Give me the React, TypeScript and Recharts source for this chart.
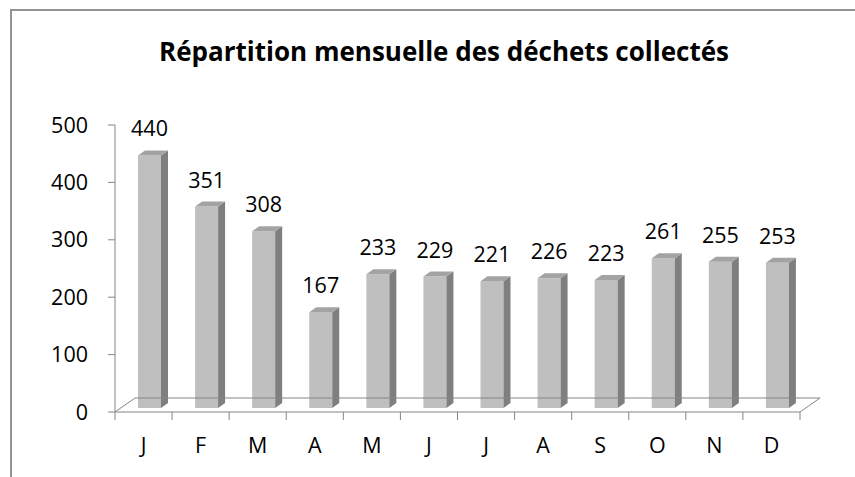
import { Bar, BarChart, LabelList, XAxis, YAxis } from "recharts"

const months = ["J", "F", "M", "A", "M", "J", "J", "A", "S", "O", "N", "D"]
const totals = [440, 351, 308, 167, 233, 229, 221, 226, 223, 261, 255, 253]
const yTicks = [0, 100, 200, 300, 400, 500]
const title = "Répartition mensuelle des déchets collectés"

const data = months.map((m, i) => ({ id: String(i), month: m, total: totals[i] }))

const font = "'Open Sans', sans-serif"
const axisGray = "#868686"
// 3d look: floor depth and bar depth
const FLOOR_DX = 20
const FLOOR_DY = -14
const BAR_SHIFT_X = 6
const BAR_SHIFT_Y = -4
const BAR_DX = 7
const BAR_DY = -5
const TICK_SIZE = 8

function Prism(props: any) {
  const { x, y, width, height } = props
  if (!height || height <= 0) return null
  const fx = x + BAR_SHIFT_X
  const fy = y + BAR_SHIFT_Y
  const r = fx + width
  return (
    <g>
      <rect x={fx} y={fy} width={width} height={height} fill="#bfbfbf" />
      <polygon
        points={`${r},${fy} ${r + BAR_DX},${fy + BAR_DY} ${r + BAR_DX},${fy + BAR_DY + height} ${r},${fy + height}`}
        fill="#7f7f7f"
      />
      <polygon
        points={`${fx},${fy} ${fx + BAR_DX},${fy + BAR_DY} ${r + BAR_DX},${fy + BAR_DY} ${r},${fy}`}
        fill="#a3a3a3"
      />
    </g>
  )
}

function ValueLabel(props: any) {
  const { x, y, width, value } = props
  return (
    <text
      x={x + BAR_SHIFT_X + width / 2}
      y={y - 23}
      textAnchor="middle"
      fontFamily={font}
      fontSize={21.5}
      fill="#000"
    >
      {value}
    </text>
  )
}

function MonthTick(props: any) {
  const { x, y, payload, index } = props
  const axisY = y - TICK_SIZE
  const half = payload && payload.offset ? payload.offset : 28.5
  const left = x - half
  const right = x + half
  const last = index === months.length - 1
  return (
    <g>
      <line x1={left} y1={axisY} x2={left} y2={axisY + TICK_SIZE} stroke={axisGray} />
      {last && <line x1={right} y1={axisY} x2={right} y2={axisY + TICK_SIZE} stroke={axisGray} />}
      <line
        x1={left + FLOOR_DX}
        y1={axisY + FLOOR_DY}
        x2={right + FLOOR_DX}
        y2={axisY + FLOOR_DY}
        stroke={axisGray}
      />
      {index === 0 && (
        <line x1={left} y1={axisY} x2={left + FLOOR_DX} y2={axisY + FLOOR_DY} stroke={axisGray} />
      )}
      {last && (
        <line x1={right} y1={axisY} x2={right + FLOOR_DX} y2={axisY + FLOOR_DY} stroke={axisGray} />
      )}
      <text x={x} y={axisY + 41} textAnchor="middle" fontFamily={font} fontSize={21.5} fill="#000">
        {months[index]}
      </text>
    </g>
  )
}

export default function App() {
  return (
    <div
      style={{
        position: "absolute",
        left: 0,
        top: 0,
        width: 855,
        height: 477,
        overflow: "hidden",
        background: "#fff",
      }}
    >
      <div
        style={{
          position: "absolute",
          left: 10,
          top: 9,
          width: 900,
          height: 520,
          borderLeft: "2px solid #939393",
          borderTop: "2px solid #939393",
        }}
      />
      <svg width={855} height={477} style={{ position: "absolute", left: 0, top: 0 }}>
        <text x={444} y={61} textAnchor="middle" fontFamily={font} fontWeight="bold" fontSize={26} fill="#000">
          {title}
        </text>
      </svg>
      <div style={{ position: "absolute", left: 0, top: 0 }}>
        <BarChart width={855} height={477} data={data} margin={{ top: 125, right: 55, left: 0, bottom: 0 }}>
          <XAxis
            dataKey="id"
            height={65}
            axisLine={{ stroke: axisGray }}
            tickLine={false}
            tickSize={TICK_SIZE}
            tickMargin={0}
            interval={0}
            tick={<MonthTick />}
          />
          <YAxis
            width={115}
            domain={[0, 500]}
            ticks={yTicks}
            axisLine={{ stroke: axisGray }}
            tickLine={{ stroke: axisGray }}
            tickSize={7}
            tickMargin={20}
            tick={{ fill: "#000", fontSize: 21.5, fontFamily: font }}
          />
          <Bar dataKey="total" barSize={23} shape={<Prism />} isAnimationActive={false}>
            <LabelList dataKey="total" content={<ValueLabel />} />
          </Bar>
        </BarChart>
      </div>
    </div>
  )
}
